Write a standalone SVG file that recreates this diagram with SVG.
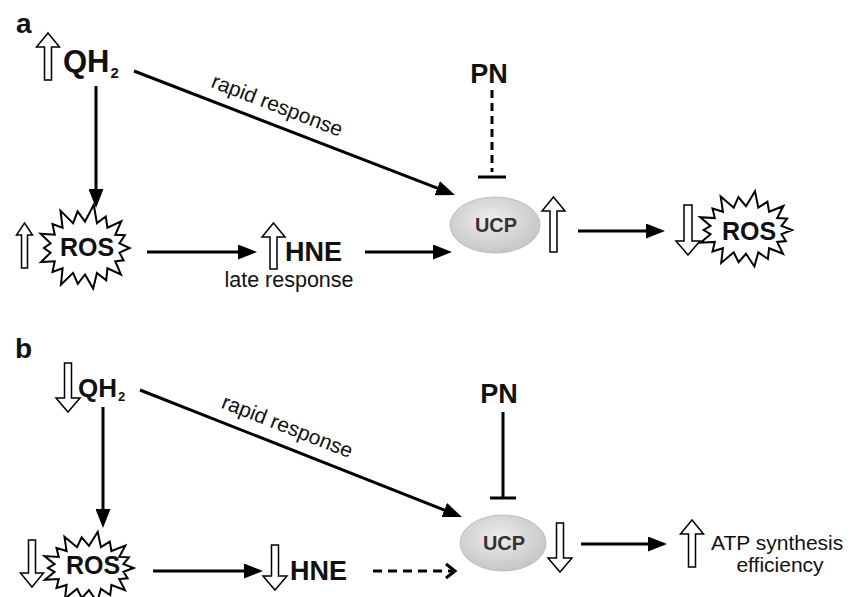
<svg xmlns="http://www.w3.org/2000/svg" xmlns:xlink="http://www.w3.org/1999/xlink" width="852" height="597" viewBox="0 0 852 597">
<style>
.t{font-family:"Liberation Sans",Arial,sans-serif;fill:#111}
.b{font-weight:bold}
.ln{stroke:#000;stroke-width:3;fill:none}
.ha{fill:#fff;stroke:#000;stroke-width:1.5;stroke-linejoin:miter}
.burst{fill:#fff;stroke:#000;stroke-width:2;stroke-linejoin:miter}
.ucp{fill:url(#ug);stroke:#bdbdbd;stroke-width:1}
</style>
<defs>
<marker id="ah" markerUnits="userSpaceOnUse" markerWidth="19" markerHeight="15" refX="7" refY="7.5" orient="auto">
<path d="M0,0 L19,7.5 L0,15 Z" fill="#000"/>
</marker>
<radialGradient id="ug" cx="0.45" cy="0.4" r="0.6">
<stop offset="0" stop-color="#ededed"/>
<stop offset="1" stop-color="#c6c6c6"/>
</radialGradient>
<path id="burst" class="burst" vector-effect="non-scaling-stroke" d="M46,0 L35.5,4.7 L39.8,12.6 L31.2,13.5 L37,27 L23.1,20.7 L21.9,32.9 L12.3,25.4 L8.4,41.4 L0,27 L-7.4,36.6 L-12.3,25.4 L-24.8,37.4 L-23.1,20.7 L-33.5,24.4 L-31.2,13.5 L-45.4,14.4 L-35.5,4.7 L-42.3,0 L-35.5,-4.7 L-45.8,-14.5 L-31.2,-13.5 L-33.5,-24.4 L-23.1,-20.7 L-25.3,-38.1 L-12.3,-25.4 L-7.6,-37.4 L0,-27 L9,-44.1 L12.3,-25.4 L21.4,-32.2 L23.1,-20.7 L37.4,-27.3 L31.2,-13.5 L41.1,-13 L35.5,-4.7 Z"/>
</defs>

<g id="connectors">
<!-- panel a -->
<line class="ln" x1="134" y1="71" x2="443.8" y2="190.7" marker-end="url(#ah)"/>
<line class="ln" x1="96" y1="86" x2="96" y2="196" marker-end="url(#ah)"/>
<line class="ln" x1="147" y1="252" x2="245" y2="252" marker-end="url(#ah)"/>
<line class="ln" x1="365" y1="252" x2="440" y2="252" marker-end="url(#ah)"/>
<line class="ln" x1="578" y1="231" x2="653" y2="231" marker-end="url(#ah)"/>
<line class="ln" x1="492" y1="90" x2="492" y2="172" stroke-dasharray="8,5"/>
<line class="ln" x1="478" y1="177" x2="506" y2="177"/>
<!-- panel b -->
<line class="ln" x1="140" y1="390" x2="450.8" y2="512.6" marker-end="url(#ah)"/>
<line class="ln" x1="103" y1="407" x2="103" y2="516" marker-end="url(#ah)"/>
<line class="ln" x1="153" y1="571" x2="251" y2="571" marker-end="url(#ah)"/>
<line class="ln" x1="581" y1="544" x2="655" y2="544" marker-end="url(#ah)"/>
<line class="ln" x1="373" y1="571" x2="452" y2="571" stroke-dasharray="9,6" stroke-width="2.5"/>
<polyline class="ln" points="446,564 455,571 446,578" stroke-width="2.5"/>
<line class="ln" x1="503" y1="412" x2="503" y2="498"/>
<line class="ln" x1="490" y1="498" x2="516" y2="498"/>
</g>

<g id="labels">
<text class="t b" x="16" y="33" font-size="28">a</text>
<text class="t b" x="15" y="358" font-size="28">b</text>
<g transform="translate(270,124) rotate(21.1)"><text class="t" x="0" y="-13" font-size="21" text-anchor="middle">rapid response</text></g>
<g transform="translate(280,445) rotate(21.5)"><text class="t" x="0" y="-13" font-size="21" text-anchor="middle">rapid response</text></g>
<text class="t" x="289" y="287" font-size="21.5" text-anchor="middle">late response</text>
</g>

<!-- panel a nodes -->
<g id="a-QH2">
<path class="ha" d="M48,33 L59.5,47 L51.5,47 L51.5,80 L44.5,80 L44.5,47 L36.5,47 Z"/>
<text class="t b" x="63" y="72" font-size="31">QH<tspan font-size="15" dx="1" dy="6">2</tspan></text>
</g>
<g id="a-ROS">
<use xlink:href="#burst" href="#burst" transform="translate(85,248) scale(0.97,0.98)"/>
<path class="ha" d="M24.5,223 L32.5,235 L27.5,235 L27.5,268 L21.5,268 L21.5,235 L16.5,235 Z"/>
<text class="t b" x="87" y="256" font-size="25" text-anchor="middle">ROS</text>
</g>
<g id="a-HNE">
<path class="ha" d="M273.5,223 L285,237 L277,237 L277,269 L270,269 L270,237 L262,237 Z"/>
<text class="t b" x="285" y="261" font-size="27">HNE</text>
</g>
<g id="a-PN">
<text class="t b" x="489" y="83" font-size="27" text-anchor="middle">PN</text>
</g>
<g id="a-UCP">
<ellipse class="ucp" cx="495" cy="225" rx="45" ry="28"/>
<text class="t b" x="496" y="232" font-size="20" text-anchor="middle" style="fill:#333">UCP</text>
<path class="ha" d="M553.5,197 L565,211 L557,211 L557,252 L550,252 L550,211 L542,211 Z"/>
</g>
<g id="a-ROS-down">
<path class="ha" d="M688,255 L700,241 L692,241 L692,205 L684,205 L684,241 L676,241 Z"/>
<use xlink:href="#burst" href="#burst" transform="translate(746,230) scale(1,0.88)"/>
<text class="t b" x="749" y="240" font-size="25" text-anchor="middle">ROS</text>
</g>

<!-- panel b nodes -->
<g id="b-QH2">
<path class="ha" d="M68,412 L80,398 L71.5,398 L71.5,363 L64.5,363 L64.5,398 L56,398 Z"/>
<text class="t b" x="78" y="397" font-size="26">QH<tspan font-size="13" dx="1" dy="4">2</tspan></text>
</g>
<g id="b-ROS">
<use xlink:href="#burst" href="#burst" transform="translate(89,568) scale(0.97,0.82)"/>
<path class="ha" d="M32,587 L43.5,573 L35.5,573 L35.5,540 L28.5,540 L28.5,573 L20.5,573 Z"/>
<text class="t b" x="93" y="574" font-size="25" text-anchor="middle">ROS</text>
</g>
<g id="b-HNE">
<path class="ha" d="M275,590 L287,576 L278.5,576 L278.5,545 L271.5,545 L271.5,576 L263,576 Z"/>
<text class="t b" x="290" y="580" font-size="27">HNE</text>
</g>
<g id="b-PN">
<text class="t b" x="499" y="403" font-size="27" text-anchor="middle">PN</text>
</g>
<g id="b-UCP">
<ellipse class="ucp" cx="503" cy="543" rx="43" ry="28"/>
<text class="t b" x="504" y="550" font-size="20" text-anchor="middle" style="fill:#333">UCP</text>
<path class="ha" d="M560,572 L572,558 L563.5,558 L563.5,523 L556.5,523 L556.5,558 L548,558 Z"/>
</g>
<g id="b-ATP">
<path class="ha" d="M692,520 L703.5,534 L695.5,534 L695.5,567 L688.5,567 L688.5,534 L680.5,534 Z"/>
<text class="t" x="711" y="550" font-size="21">ATP synthesis</text>
<text class="t" x="780" y="572" font-size="21" text-anchor="middle">efficiency</text>
</g>
</svg>
